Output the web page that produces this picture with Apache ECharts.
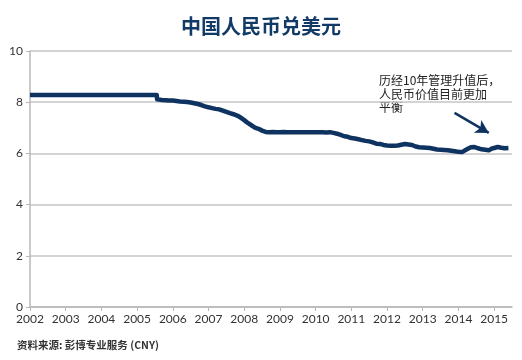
<!DOCTYPE html>
<html>
<head>
<meta charset="utf-8">
<script src="https://cdn.jsdelivr.net/npm/echarts@6/dist/echarts.min.js"></script>
<style>html,body{margin:0;padding:0;background:#fff;}#c{width:522px;height:360px;}</style>
</head>
<body>
<div id="c"></div>
<script>
const titleText = '中国人民币兑美元';
const noteText = '历经10年管理升值后，\n人民币价值目前更加\n平衡';
const sourceText = '资料来源: 彭博专业服务 (CNY)';
const yearTicks = [2002,2003,2004,2005,2006,2007,2008,2009,2010,2011,2012,2013,2014,2015];
const dates = [
  2002.0, 2005.55, 2005.56, 2005.6, 2005.7, 2005.8, 2005.9,
  2006.0, 2006.1, 2006.2, 2006.3, 2006.4, 2006.5, 2006.6, 2006.7, 2006.8, 2006.9,
  2007.0, 2007.1, 2007.2, 2007.3, 2007.4, 2007.5, 2007.6, 2007.7, 2007.8, 2007.9,
  2008.0, 2008.1, 2008.2, 2008.3, 2008.4, 2008.5, 2008.6, 2008.7, 2008.8, 2008.9,
  2009.0, 2009.1, 2009.2, 2009.3, 2009.4, 2009.5, 2009.6, 2009.7, 2009.8, 2009.9,
  2010.0, 2010.1, 2010.2, 2010.3, 2010.4, 2010.5, 2010.6, 2010.7, 2010.8, 2010.9,
  2011.0, 2011.1, 2011.2, 2011.3, 2011.4, 2011.5, 2011.6, 2011.7, 2011.8, 2011.9,
  2012.0, 2012.1, 2012.2, 2012.3, 2012.4, 2012.5, 2012.6, 2012.7, 2012.8, 2012.9,
  2013.0, 2013.1, 2013.2, 2013.3, 2013.4, 2013.5, 2013.6, 2013.7, 2013.8, 2013.9,
  2014.0, 2014.1, 2014.15, 2014.25, 2014.35, 2014.45, 2014.55, 2014.65, 2014.75, 2014.85, 2014.92,
  2015.0, 2015.1, 2015.2, 2015.25, 2015.3, 2015.4
];
const rates = [
  8.28, 8.28, 8.11, 8.10, 8.09, 8.08, 8.07,
  8.07, 8.05, 8.03, 8.02, 8.01, 7.99, 7.96, 7.93, 7.89, 7.84,
  7.80, 7.77, 7.74, 7.72, 7.67, 7.62, 7.57, 7.53, 7.48, 7.40,
  7.30, 7.19, 7.10, 7.01, 6.96, 6.89, 6.84, 6.83, 6.84, 6.83,
  6.83, 6.84, 6.83, 6.83, 6.83, 6.83, 6.83, 6.83, 6.83, 6.83,
  6.83, 6.83, 6.83, 6.82, 6.83, 6.80, 6.77, 6.72, 6.67, 6.65,
  6.60, 6.58, 6.55, 6.52, 6.49, 6.47, 6.43, 6.38, 6.37, 6.33,
  6.31, 6.30, 6.30, 6.31, 6.34, 6.37, 6.35, 6.33, 6.27, 6.24,
  6.23, 6.22, 6.21, 6.18, 6.15, 6.14, 6.13, 6.12, 6.10, 6.08,
  6.06, 6.05, 6.10, 6.17, 6.24, 6.25, 6.20, 6.16, 6.14, 6.12, 6.18,
  6.21, 6.25, 6.22, 6.17, 6.20, 6.21
];
const arrowStart = [2013.89, 7.58];
const arrowEnd = [2014.85, 6.80];

const seriesData = dates.map((d, i) => [d, rates[i]]);
const chart = echarts.init(document.getElementById('c'));
chart.setOption({
  animation: false,
  title: {
    text: titleText, left: 'center', top: 11,
    textStyle: { fontFamily: 'Noto Sans CJK SC', fontSize: 20, fontWeight: 'bold', color: '#123a66' }
  },
  grid: { left: 30, right: 10, top: 51, bottom: 53 },
  xAxis: {
    type: 'value', min: 2002, max: 2015.5, interval: 1,
    axisLine: { show: true, onZero: false, lineStyle: { color: '#b8b8b8', width: 1.5 } },
    axisTick: { show: true, length: 4, lineStyle: { color: '#b8b8b8' } },
    splitLine: { show: false },
    axisLabel: {
      fontFamily: 'Lato', fontSize: 12, color: '#333', margin: 6,
      showMaxLabel: false,
      formatter: v => (yearTicks.indexOf(Math.round(v)) >= 0 && Math.abs(v - Math.round(v)) < 1e-6) ? String(Math.round(v)) : ''
    }
  },
  yAxis: {
    type: 'value', min: 0, max: 10, interval: 2,
    axisLine: { show: true, lineStyle: { color: '#b8b8b8', width: 1.5 } },
    axisTick: { show: true, length: 4, lineStyle: { color: '#b8b8b8' } },
    splitLine: { show: true, lineStyle: { color: '#c4c4c4', width: 1.5 } },
    axisLabel: { fontFamily: 'Lato', fontSize: 12, color: '#333', margin: 7 }
  },
  series: [{
    type: 'line', data: seriesData, showSymbol: false, symbol: 'none',
    lineStyle: { color: '#0f3360', width: 4.5, join: 'round' },
    markLine: {
      silent: true, symbol: ['none', 'arrow'], symbolSize: [11, 13],
      label: { show: false },
      lineStyle: { color: '#0f3360', width: 2.5, type: 'solid' },
      data: [[{ coord: arrowStart }, { coord: arrowEnd }]]
    }
  }],
  graphic: [
    { type: 'text', left: 379, top: 74, style: { text: noteText, fontFamily: 'Noto Sans CJK SC', fontSize: 12, lineHeight: 13.5, fill: '#222' } },
    { type: 'text', left: 17, top: 340, style: { text: sourceText, fontFamily: 'Noto Sans CJK SC', fontSize: 10.5, fontWeight: 'bold', fill: '#333' } }
  ]
});
</script>
</body>
</html>
